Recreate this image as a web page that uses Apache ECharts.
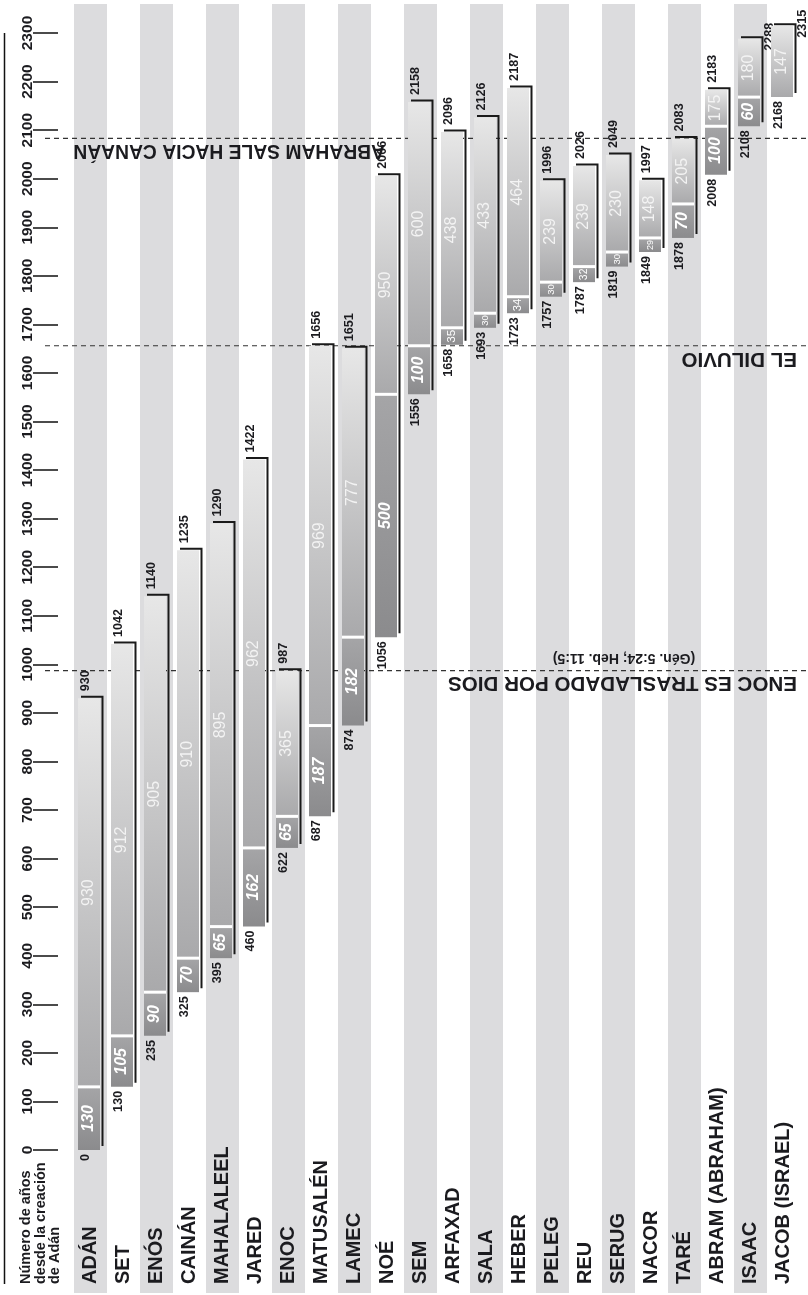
<!DOCTYPE html>
<html><head><meta charset="utf-8">
<script src="https://cdn.jsdelivr.net/npm/echarts@6/dist/echarts.min.js"></script>
<style>html,body{margin:0;padding:0;background:#fff}#c{width:808px;height:1295px}</style>
</head><body><div id="c"></div>
<script>
// ---------- DATA ----------
const names = ['ADÁN','SET','ENÓS','CAINÁN','MAHALALEEL','JARED','ENOC','MATUSALÉN','LAMEC','NOÉ','SEM','ARFAXAD','SALA','HEBER','PELEG','REU','SERUG','NACOR','TARÉ','ABRAM (ABRAHAM)','ISAAC','JACOB (ISRAEL)'];
const births = [0,130,235,325,395,460,622,687,874,1056,1556,1658,1693,1723,1757,1787,1819,1849,1878,2008,2108,2168];
const deaths = [930,1042,1140,1235,1290,1422,987,1656,1651,2006,2158,2096,2126,2187,1996,2026,2049,1997,2083,2183,2288,2315];
const lifespans = [930,912,905,910,895,962,365,969,777,950,600,438,433,464,239,239,230,148,205,175,180,147];
const sonAges = [130,105,90,70,65,162,65,187,182,500,100,35,30,34,30,32,30,29,70,100,60,null];
const yearMin = 0, yearMax = 2300, yearStep = 100;
const eventYears = [2083,1656,987];
const eventTitles = ['ABRAHAM SALE HACIA CANAÁN','EL DILUVIO','ENOC ES TRASLADADO POR DIOS'];
const eventNotes = ['','','(Gén. 5:24; Heb. 11:5)'];
const axisTitle = ['Número de años','desde la creación','de Adán'];

// ---------- FONTS ----------
function hasFont(f){const c=document.createElement('canvas').getContext('2d');const s='0123456789 mmmWWWiiilll';c.font='40px monospace';const a=c.measureText(s).width;c.font='40px "'+f+'", monospace';const b=c.measureText(s).width;return Math.abs(a-b)>0.5;}
const NARROW = hasFont('Liberation Sans Narrow');
const NF = NARROW ? 'Liberation Sans Narrow' : 'Liberation Sans';
const NS = NARROW ? 1 : 0.84;
const DIGW = NARROW ? 0.456 : 0.556;
const INK = '#1b1b1f';

const chart = echarts.init(document.getElementById('c'), null, {renderer:'canvas'});

const barData = names.map((n,i)=>[i, births[i], deaths[i], lifespans[i], sonAges[i]==null?0:sonAges[i]]);
const eventData = eventYears.map((y,i)=>[i, y]);

function renderBar(params, api){
  const i = api.value(0), b = api.value(1), d = api.value(2), life = api.value(3), son = api.value(4);
  const bw = api.size([1,0])[0];
  const L = api.coord([i, 0])[0] - bw/2;
  const yB = api.coord([i, b])[1], yD = api.coord([i, d])[1];
  const hasSon = son > 0;
  const ySep = hasSon ? api.coord([i, b+son])[1] : yB;
  const fx = L+4, fw = 22, fc = fx + fw/2;
  const ch = [];
  ch.push({type:'polyline', shape:{points:[[L+7,yD-1.5],[L+28.5,yD-1.5],[L+28.5,yB-4]]}, style:{stroke:'#1a1a1a', lineWidth:2, fill:null}});
  ch.push({type:'rect', shape:{x:fx, y:yD, width:fw, height:ySep-yD}, style:{fill:new echarts.graphic.LinearGradient(0,0,0,1,[{offset:0,color:'#e7e7e7'},{offset:1,color:'#a9a9ab'}])}});
  if(hasSon){
    ch.push({type:'rect', shape:{x:fx, y:ySep, width:fw, height:yB-ySep}, style:{fill:new echarts.graphic.LinearGradient(0,0,0,1,[{offset:0,color:'#a5a5a7'},{offset:1,color:'#8b8b8d'}])}});
    ch.push({type:'rect', shape:{x:fx, y:ySep-1.5, width:fw, height:3}, style:{fill:'#ffffff'}});
    const segPx = yB - ySep;
    const txt = String(son);
    let fs = Math.min(19*NS, (segPx-4)/(DIGW*txt.length));
    ch.push({type:'text', x:fc, y:(ySep+yB)/2, rotation:Math.PI/2, style:{text:txt, fill:'#ffffff', fontFamily:NF, fontSize:fs, fontWeight: fs>=14?'bold':'normal', fontStyle: fs>=14?'italic':'normal', align:'center', verticalAlign:'middle'}});
  }
  ch.push({type:'text', x:fc, y:(yD+ySep)/2, rotation:Math.PI/2, style:{text:String(life), fill:'#f3f3f3', fontFamily:NF, fontSize:19*NS, fontWeight:'normal', align:'center', verticalAlign:'middle'}});
  // death year label
  const lfs = 15*NS, lLen = DIGW*lfs*String(d).length;
  if (yD - 7 - lLen < 10) {
    ch.push({type:'text', x:L+36, y:yD+12, rotation:Math.PI/2, style:{text:String(d), fill:INK, fontFamily:NF, fontSize:lfs, fontWeight:'bold', align:'left', verticalAlign:'middle'}});
  } else {
    ch.push({type:'text', x:L+11.5, y:yD-7, rotation:Math.PI/2, style:{text:String(d), fill:INK, fontFamily:NF, fontSize:lfs, fontWeight:'bold', align:'left', verticalAlign:'middle'}});
  }
  ch.push({type:'text', x:L+11.5, y:yB+4, rotation:Math.PI/2, style:{text:String(b), fill:INK, fontFamily:NF, fontSize:lfs, fontWeight:'bold', align:'right', verticalAlign:'middle'}});
  return {type:'group', children:ch};
}

function renderEvent(params, api){
  const i = api.value(0), yr = api.value(1);
  const y = api.coord([0, yr])[1];
  const ch = [];
  ch.push({type:'line', shape:{x1:45, y1:y, x2:808, y2:y}, style:{stroke:'#333', lineWidth:1.2, lineDash:[5,4]}});
  const rightEnd = i === 0 ? 385 : 797;
  const fsz = i === 0 ? 19.3 : 20.6;
  ch.push({type:'text', x:rightEnd, y:y+2, rotation:Math.PI, style:{text:eventTitles[i], fill:INK, font:'bold '+fsz+'px "Liberation Sans"', align:'left', verticalAlign:'bottom'}});
  if (eventNotes[i]) {
    ch.push({type:'text', x:624, y:y-6, rotation:Math.PI, style:{text:eventNotes[i], fill:INK, font:'bold 14px "Liberation Sans"', align:'center', verticalAlign:'top'}});
  }
  return {type:'group', children:ch};
}

const option = {
  animation:false,
  backgroundColor:'#ffffff',
  grid:[
    {left:74, right:8, top:4, bottom:2, containLabel:false, outerBoundsMode:'none'},
    {left:74, right:8, top:33, bottom:145, containLabel:false, outerBoundsMode:'none'}
  ],
  xAxis:[
    {gridIndex:0, type:'category', data:names, boundaryGap:true, axisLine:{show:false}, axisTick:{show:false, interval:0}, axisLabel:{show:false, interval:0},
     splitLine:{show:false}, splitArea:{show:true, interval:0, areaStyle:{color:['#dcdcde','rgba(255,255,255,0)']}}},
    {gridIndex:1, type:'category', data:names, boundaryGap:true, axisLine:{show:false}, axisTick:{show:false},
     splitLine:{show:false}, splitArea:{show:false},
     axisLabel:{show:true, interval:0, rotate:90, align:'left', verticalAlign:'middle', margin:134, color:INK, fontFamily:'Liberation Sans', fontWeight:'bold', fontSize:20}}
  ],
  yAxis:[
    {gridIndex:0, type:'value', min:0, max:1, show:false},
    {gridIndex:1, type:'value', min:yearMin, max:yearMax, interval:yearStep, offset:16, position:'left',
     axisLine:{show:false}, splitLine:{show:false},
     axisTick:{show:true, length:25, lineStyle:{color:'#111', width:1.5}},
     axisLabel:{show:true, rotate:90, margin:22, color:INK, fontFamily:NF, fontWeight:'bold', fontSize:18.5*NS, formatter:(v)=>String(v)}}
  ],
  series:[
    {type:'custom', name:'events', xAxisIndex:1, yAxisIndex:1, z:1, data:eventData, renderItem:renderEvent, silent:true},
    {type:'custom', name:'lives', xAxisIndex:1, yAxisIndex:1, z:2, data:barData, renderItem:renderBar, silent:true}
  ],
  graphic:[
    {type:'line', shape:{x1:4.5, y1:33, x2:4.5, y2:1284}, style:{stroke:'#111', lineWidth:1.5}, z:10},
    {type:'text', x:19, y:1284, rotation:Math.PI/2, z:10, style:{text:axisTitle.join('\n'), fill:INK, font:'bold 14.5px "Liberation Sans"', lineHeight:14.5, align:'left', verticalAlign:'top'}}
  ]
};
chart.setOption(option);
</script>
</body></html>
